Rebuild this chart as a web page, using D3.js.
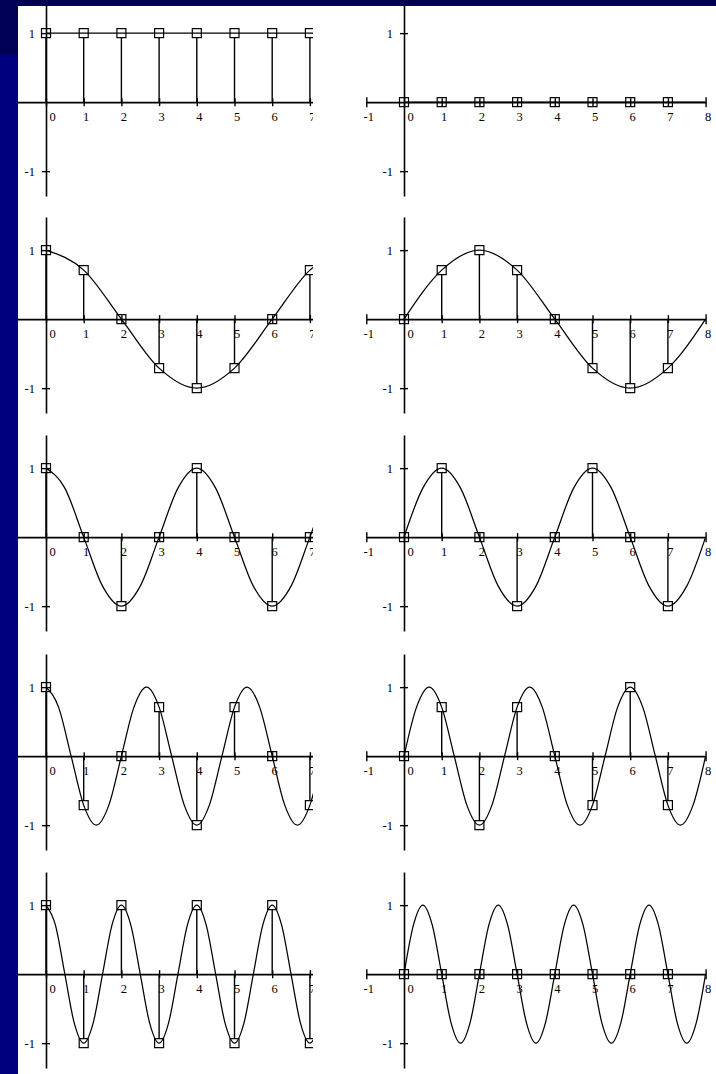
<!DOCTYPE html>
<html>
<head>
<meta charset="utf-8">
<script src="https://cdn.jsdelivr.net/npm/d3@7/dist/d3.min.js"></script>
<style>
  html, body { margin: 0; padding: 0; background: #ffffff; }
  svg { display: block; }
  text { font-family: "Liberation Serif", "DejaVu Serif", serif; font-size: 12.5px; fill: #000; }
</style>
</head>
<body>
<script>
// ---- data ----
const harmonics = [0, 1, 2, 3, 4];
const sampleN = [0, 1, 2, 3, 4, 5, 6, 7];
const xTicks = [-1, 0, 1, 2, 3, 4, 5, 6, 7, 8];
const yTicks = [-1, 1];

// sampled values, cosine column (k = 0..4)
const cosSamples = [
  [1, 1, 1, 1, 1, 1, 1, 1],
  [1, 0.71, 0, -0.71, -1, -0.71, 0, 0.71],
  [1, 0, -1, 0, 1, 0, -1, 0],
  [1, -0.71, 0, 0.71, -1, 0.71, 0, -0.71],
  [1, -1, 1, -1, 1, -1, 1, -1]
];
// sampled values, sine column (k = 0..4)
const sinSamples = [
  [0, 0, 0, 0, 0, 0, 0, 0],
  [0, 0.71, 1, 0.71, 0, -0.71, -1, -0.71],
  [0, 1, 0, -1, 0, 1, 0, -1],
  [0, 0.71, -1, 0.71, 0, -0.71, 1, -0.71],
  [0, 0, 0, 0, 0, 0, 0, 0]
];

// continuous curves: key points
const curveT = [
  [0, 8],
  [0, 1, 2, 3, 4, 5, 6, 7, 8],
  [0, 0.5, 1, 1.5, 2, 2.5, 3, 3.5, 4, 4.5, 5, 5.5, 6, 6.5, 7, 7.5, 8],
  [0, 0.333, 0.667, 1, 1.333, 1.667, 2, 2.333, 2.667, 3, 3.333, 3.667, 4,
   4.333, 4.667, 5, 5.333, 5.667, 6, 6.333, 6.667, 7, 7.333, 7.667, 8],
  [0, 0.25, 0.5, 0.75, 1, 1.25, 1.5, 1.75, 2, 2.25, 2.5, 2.75, 3, 3.25, 3.5, 3.75, 4,
   4.25, 4.5, 4.75, 5, 5.25, 5.5, 5.75, 6, 6.25, 6.5, 6.75, 7, 7.25, 7.5, 7.75, 8]
];
const cosCurve = [
  [1, 1],
  [1, 0.71, 0, -0.71, -1, -0.71, 0, 0.71, 1],
  [1, 0.71, 0, -0.71, -1, -0.71, 0, 0.71, 1, 0.71, 0, -0.71, -1, -0.71, 0, 0.71, 1],
  [1, 0.71, 0, -0.71, -1, -0.71, 0, 0.71, 1, 0.71, 0, -0.71, -1,
   -0.71, 0, 0.71, 1, 0.71, 0, -0.71, -1, -0.71, 0, 0.71, 1],
  [1, 0.71, 0, -0.71, -1, -0.71, 0, 0.71, 1, 0.71, 0, -0.71, -1, -0.71, 0, 0.71, 1,
   0.71, 0, -0.71, -1, -0.71, 0, 0.71, 1, 0.71, 0, -0.71, -1, -0.71, 0, 0.71, 1]
];
const sinCurve = [
  [0, 0],
  [0, 0.71, 1, 0.71, 0, -0.71, -1, -0.71, 0],
  [0, 0.71, 1, 0.71, 0, -0.71, -1, -0.71, 0, 0.71, 1, 0.71, 0, -0.71, -1, -0.71, 0],
  [0, 0.71, 1, 0.71, 0, -0.71, -1, -0.71, 0, 0.71, 1, 0.71, 0,
   -0.71, -1, -0.71, 0, 0.71, 1, 0.71, 0, -0.71, -1, -0.71, 0],
  [0, 0.71, 1, 0.71, 0, -0.71, -1, -0.71, 0, 0.71, 1, 0.71, 0, -0.71, -1, -0.71, 0,
   0.71, 1, 0.71, 0, -0.71, -1, -0.71, 0, 0.71, 1, 0.71, 0, -0.71, -1, -0.71, 0]
];

// ---- layout ----
const W = 716, H = 1074;
const colX0 = [46, 404];                 // pixel of n = 0
const rowY0 = [102, 319, 537, 756, 974]; // pixel of value 0
const unitX = 37.7;

const svg = d3.select("body").append("svg").attr("width", W).attr("height", H);

svg.append("defs").append("clipPath").attr("id", "clipLeft")
  .append("rect").attr("x", 18).attr("y", 0).attr("width", 313 - 18).attr("height", H);

function panel(col, row, samples, curveVals) {
  const x0 = colX0[col], y0 = rowY0[row];
  const x = d3.scaleLinear().domain([-1, 8]).range([x0 - unitX, x0 + 8 * unitX]);
  const y = d3.scaleLinear().domain([-1.36, 1.48]).range([y0 + 94, y0 - 102]);

  const g = svg.append("g");
  if (col === 0) g.attr("clip-path", "url(#clipLeft)");

  // x axis
  const xa = g.append("g").attr("transform", `translate(0,${y(0)})`)
    .call(d3.axisBottom(x).tickValues(xTicks).tickSizeOuter(0).tickSizeInner(4)
      .tickFormat(d => d < 0 ? "-" + Math.abs(d) : String(d)));
  xa.select(".domain").attr("stroke", "#000").attr("stroke-width", 1.6);
  xa.selectAll(".tick line")
    .attr("y1", d => (d === -1 || d === 8) ? -5 : -4)
    .attr("y2", d => (d === -1 || d === 8) ? 5 : 4)
    .attr("stroke", "#000").attr("stroke-width", 1.4);
  xa.selectAll(".tick text")
    .attr("y", 19).attr("dy", null)
    .attr("x", d => d === 0 ? 6 : 2)
    .attr("font-family", null).attr("font-size", null).attr("fill", "#000");

  // y axis
  const ya = g.append("g").attr("transform", `translate(${x(0)},0)`)
    .call(d3.axisLeft(y).tickValues(yTicks).tickSizeOuter(0).tickSizeInner(4)
      .tickFormat(d => d < 0 ? "-" + Math.abs(d) : String(d)));
  ya.select(".domain").attr("stroke", "#000").attr("stroke-width", 1.6);
  ya.selectAll(".tick line").attr("x1", -4).attr("x2", 4)
    .attr("stroke", "#000").attr("stroke-width", 1.4);
  ya.selectAll(".tick text").attr("x", -11).attr("dy", "0.32em")
    .attr("font-family", null).attr("font-size", null).attr("fill", "#000");

  // continuous curve
  const pts = curveT[row].map((t, i) => [t, curveVals[i]]);
  g.append("path").datum(pts)
    .attr("fill", "none").attr("stroke", "#000").attr("stroke-width", 1.25)
    .attr("d", d3.line().x(d => x(d[0])).y(d => y(d[1])).curve(d3.curveMonotoneX));

  // stems
  const data = sampleN.map((n, i) => ({ n, v: samples[i] }));
  const ms = 9;
  g.selectAll(".stem").data(data.filter(d => d.v !== 0)).join("line")
    .attr("x1", d => x(d.n)).attr("x2", d => x(d.n))
    .attr("y1", y(0))
    .attr("y2", d => y(d.v) + (d.v > 0 ? ms / 2 : -ms / 2))
    .attr("stroke", "#000").attr("stroke-width", 1.4);

  // markers
  g.selectAll(".mk").data(data).join("rect")
    .attr("x", d => x(d.n) - ms / 2).attr("y", d => y(d.v) - ms / 2)
    .attr("width", ms).attr("height", ms)
    .attr("fill", "none").attr("stroke", "#000").attr("stroke-width", 1.2);
}

harmonics.forEach((k, r) => {
  panel(0, r, cosSamples[r], cosCurve[r]);
  panel(1, r, sinSamples[r], sinCurve[r]);
});

// slide frame (navy bars)
svg.append("rect").attr("x", 0).attr("y", 0).attr("width", 18).attr("height", H).attr("fill", "#00007e");
svg.append("rect").attr("x", 0).attr("y", 0).attr("width", W).attr("height", 6).attr("fill", "#000055");
svg.append("rect").attr("x", 0).attr("y", 0).attr("width", 18).attr("height", 54).attr("fill", "#000055");
</script>
</body>
</html>
